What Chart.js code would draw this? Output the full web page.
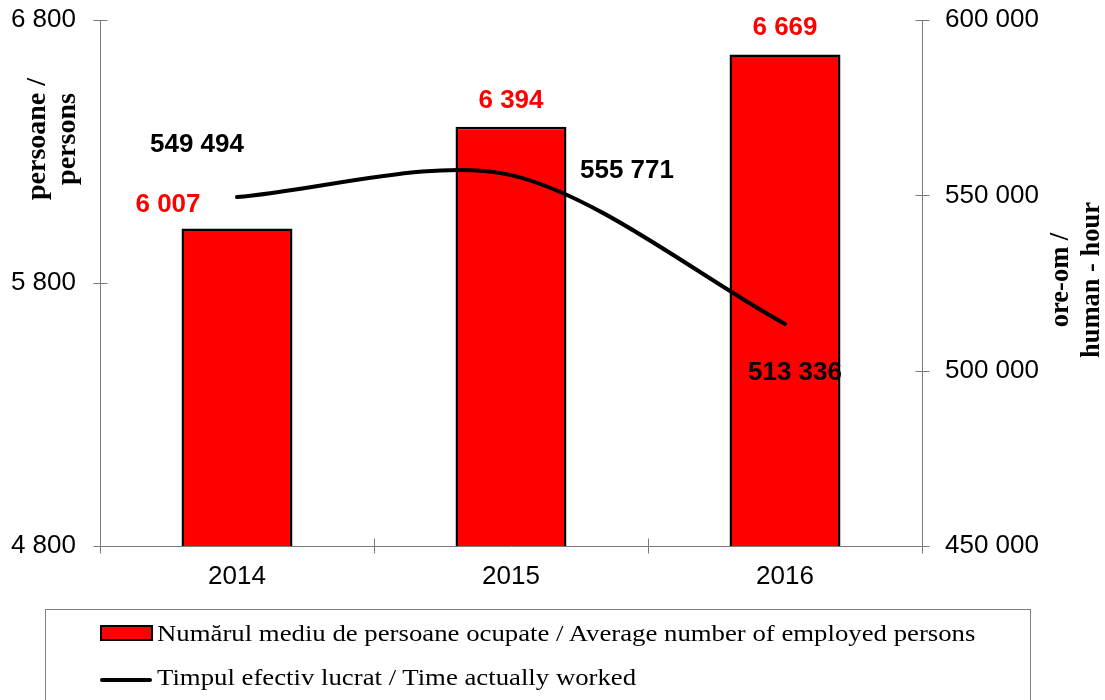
<!DOCTYPE html>
<html>
<head>
<meta charset="utf-8">
<script src="https://cdn.jsdelivr.net/npm/chart.js@4.4.1/dist/chart.umd.min.js"></script>
<style>
  html, body { margin: 0; padding: 0; background: #fff; }
  #wrap { position: relative; width: 1105px; height: 700px; overflow: hidden; }
  #legend {
    position: absolute; left: 45px; top: 609px; width: 986px; height: 130px;
    border: 1.5px solid #808080; box-sizing: border-box;
    font-family: "Liberation Serif", "Times New Roman", serif; font-size: 24px; color: #000;
  }
  .item { position: absolute; left: 54px; height: 28px; line-height: 28px; display: flex; align-items: center; white-space: nowrap; }
  .item .txt { display: inline-block; transform: scaleX(1.115); transform-origin: left center; }
  .sw { width: 53px; height: 16px; background: #f00; border: 2px solid #000; box-sizing: border-box; margin-right: 4px; }
  .ln { width: 52px; height: 4px; background: #000; border-radius: 2px; margin-right: 5px; position: relative; top: 3px; }
</style>
</head>
<body>
<div id="wrap">
  <canvas id="chart" width="1105" height="700"></canvas>
  <div id="legend">
    <div class="item" style="top:9px"><span class="sw"></span><span class="txt">Numărul mediu de persoane ocupate / Average number of employed persons</span></div>
    <div class="item" style="top:53px"><span class="ln"></span><span class="txt">Timpul efectiv lucrat / Time actually worked</span></div>
  </div>
</div>
<script>
const years = ['2014', '2015', '2016'];
const employed = [6007, 6394, 6669];
const hoursWorked = [549494, 555771, 513336];
const leftTicks = [4800, 5800, 6800];
const rightTicks = [450000, 500000, 550000, 600000];

// where the value labels sit relative to their mark (px)
const barLabelShift = [[-69, -24], [0, -26], [0, -27]];
const lineLabelShift = [[-40, -52], [116, -4], [10, 49]];

const AXIS_GREY = '#7a7a7a';
const SANS = '"Liberation Sans", Arial, sans-serif';
const SERIF = '"Liberation Serif", "Times New Roman", serif';

function fmt(v) { return String(v).replace(/\B(?=(\d{3})+(?!\d))/g, ' '); }

// fixed box sizes so the plot area lands where the original's does
function fixWidth(w) {
  return s => { s.width = w; s.paddingTop = 0; s.paddingBottom = 0; };
}

const axesPlugin = {
  id: 'axesPlugin',
  beforeDatasetsDraw(chart) {
    const { ctx, chartArea: a, scales } = chart;
    const L = Math.round(a.left) + 0.5, R = Math.round(a.right) + 0.5, B = Math.round(a.bottom) + 0.5;
    ctx.save();
    ctx.strokeStyle = AXIS_GREY;
    ctx.lineWidth = 1;
    ctx.beginPath();
    ctx.moveTo(L, a.top); ctx.lineTo(L, B);
    ctx.moveTo(R, a.top); ctx.lineTo(R, B);
    ctx.moveTo(L, B); ctx.lineTo(R, B);
    scales.y.ticks.forEach((t, i) => {
      const y = Math.round(scales.y.getPixelForTick(i)) + 0.5;
      ctx.moveTo(L - 7, y); ctx.lineTo(L + 7, y);
    });
    scales.y1.ticks.forEach((t, i) => {
      const y = Math.round(scales.y1.getPixelForTick(i)) + 0.5;
      ctx.moveTo(R - 7, y); ctx.lineTo(R + 7, y);
    });
    const step = scales.x.width / years.length;
    for (let i = 0; i <= years.length; i++) {
      const x = Math.round(scales.x.left + i * step) + 0.5;
      ctx.moveTo(x, B - 8); ctx.lineTo(x, B + 7);
    }
    ctx.stroke();
    ctx.restore();
  }
};

const labelsPlugin = {
  id: 'labelsPlugin',
  afterDatasetsDraw(chart) {
    const { ctx } = chart;
    ctx.save();
    ctx.textAlign = 'center';
    ctx.textBaseline = 'middle';
    ctx.font = 'bold 26px ' + SANS;
    ctx.fillStyle = '#ff0000';
    chart.getDatasetMeta(0).data.forEach((el, i) => {
      ctx.fillText(fmt(employed[i]), el.x + barLabelShift[i][0], el.y + barLabelShift[i][1]);
    });
    ctx.fillStyle = '#000';
    chart.getDatasetMeta(1).data.forEach((el, i) => {
      ctx.fillText(fmt(hoursWorked[i]), el.x + lineLabelShift[i][0], el.y + lineLabelShift[i][1]);
    });

    // axis titles, rotated
    const a = chart.chartArea;
    ctx.font = 'bold 28px ' + SERIF;
    ctx.translate(a.left - 62, 139);
    ctx.rotate(-Math.PI / 2);
    ctx.fillText('persoane /', 0, 0);
    ctx.fillText('persons', 0, 30);
    ctx.setTransform(1, 0, 0, 1, 0, 0);
    ctx.font = 'bold 26.5px ' + SERIF;
    ctx.translate(a.right + 139, 280);
    ctx.rotate(-Math.PI / 2);
    ctx.fillText('ore-om /', 0, 0);
    ctx.fillText('human - hour', 0, 31);
    ctx.restore();
  }
};

new Chart(document.getElementById('chart').getContext('2d'), {
  data: {
    labels: years,
    datasets: [
      {
        type: 'bar',
        label: 'Numărul mediu de persoane ocupate / Average number of employed persons',
        data: employed,
        yAxisID: 'y',
        backgroundColor: '#ff0000',
        borderColor: '#000',
        borderWidth: 2.5,
        barPercentage: 0.405,
        categoryPercentage: 1.0,
        order: 2
      },
      {
        type: 'line',
        label: 'Timpul efectiv lucrat / Time actually worked',
        data: hoursWorked,
        yAxisID: 'y1',
        borderColor: '#000',
        borderWidth: 4,
        borderCapStyle: 'round',
        pointRadius: 0,
        tension: 0.3,
        fill: false,
        order: 1
      }
    ]
  },
  options: {
    responsive: false,
    animation: false,
    layout: { padding: { top: 20, left: 0, right: 0, bottom: 0 } },
    plugins: { legend: { display: false }, tooltip: { enabled: false } },
    scales: {
      x: {
        offset: true,
        grid: { display: false, drawTicks: false },
        border: { display: false },
        ticks: { color: '#000', font: { family: SANS, size: 26 }, padding: 15 },
        afterFit(s) { s.height = 154; s.paddingLeft = 0; s.paddingRight = 0; }
      },
      y: {
        position: 'left',
        min: leftTicks[0], max: leftTicks[leftTicks.length - 1],
        afterBuildTicks(s) { s.ticks = leftTicks.map(v => ({ value: v })); },
        grid: { display: false, drawTicks: false },
        border: { display: false },
        ticks: { color: '#000', font: { family: SANS, size: 26 }, padding: 24, callback: v => fmt(v) },
        afterFit: fixWidth(100)
      },
      y1: {
        position: 'right',
        min: rightTicks[0], max: rightTicks[rightTicks.length - 1],
        afterBuildTicks(s) { s.ticks = rightTicks.map(v => ({ value: v })); },
        grid: { display: false, drawTicks: false },
        border: { display: false },
        ticks: { color: '#000', font: { family: SANS, size: 26 }, padding: 23, callback: v => fmt(v) },
        afterFit: fixWidth(183)
      }
    }
  },
  plugins: [axesPlugin, labelsPlugin]
});
</script>
</body>
</html>
